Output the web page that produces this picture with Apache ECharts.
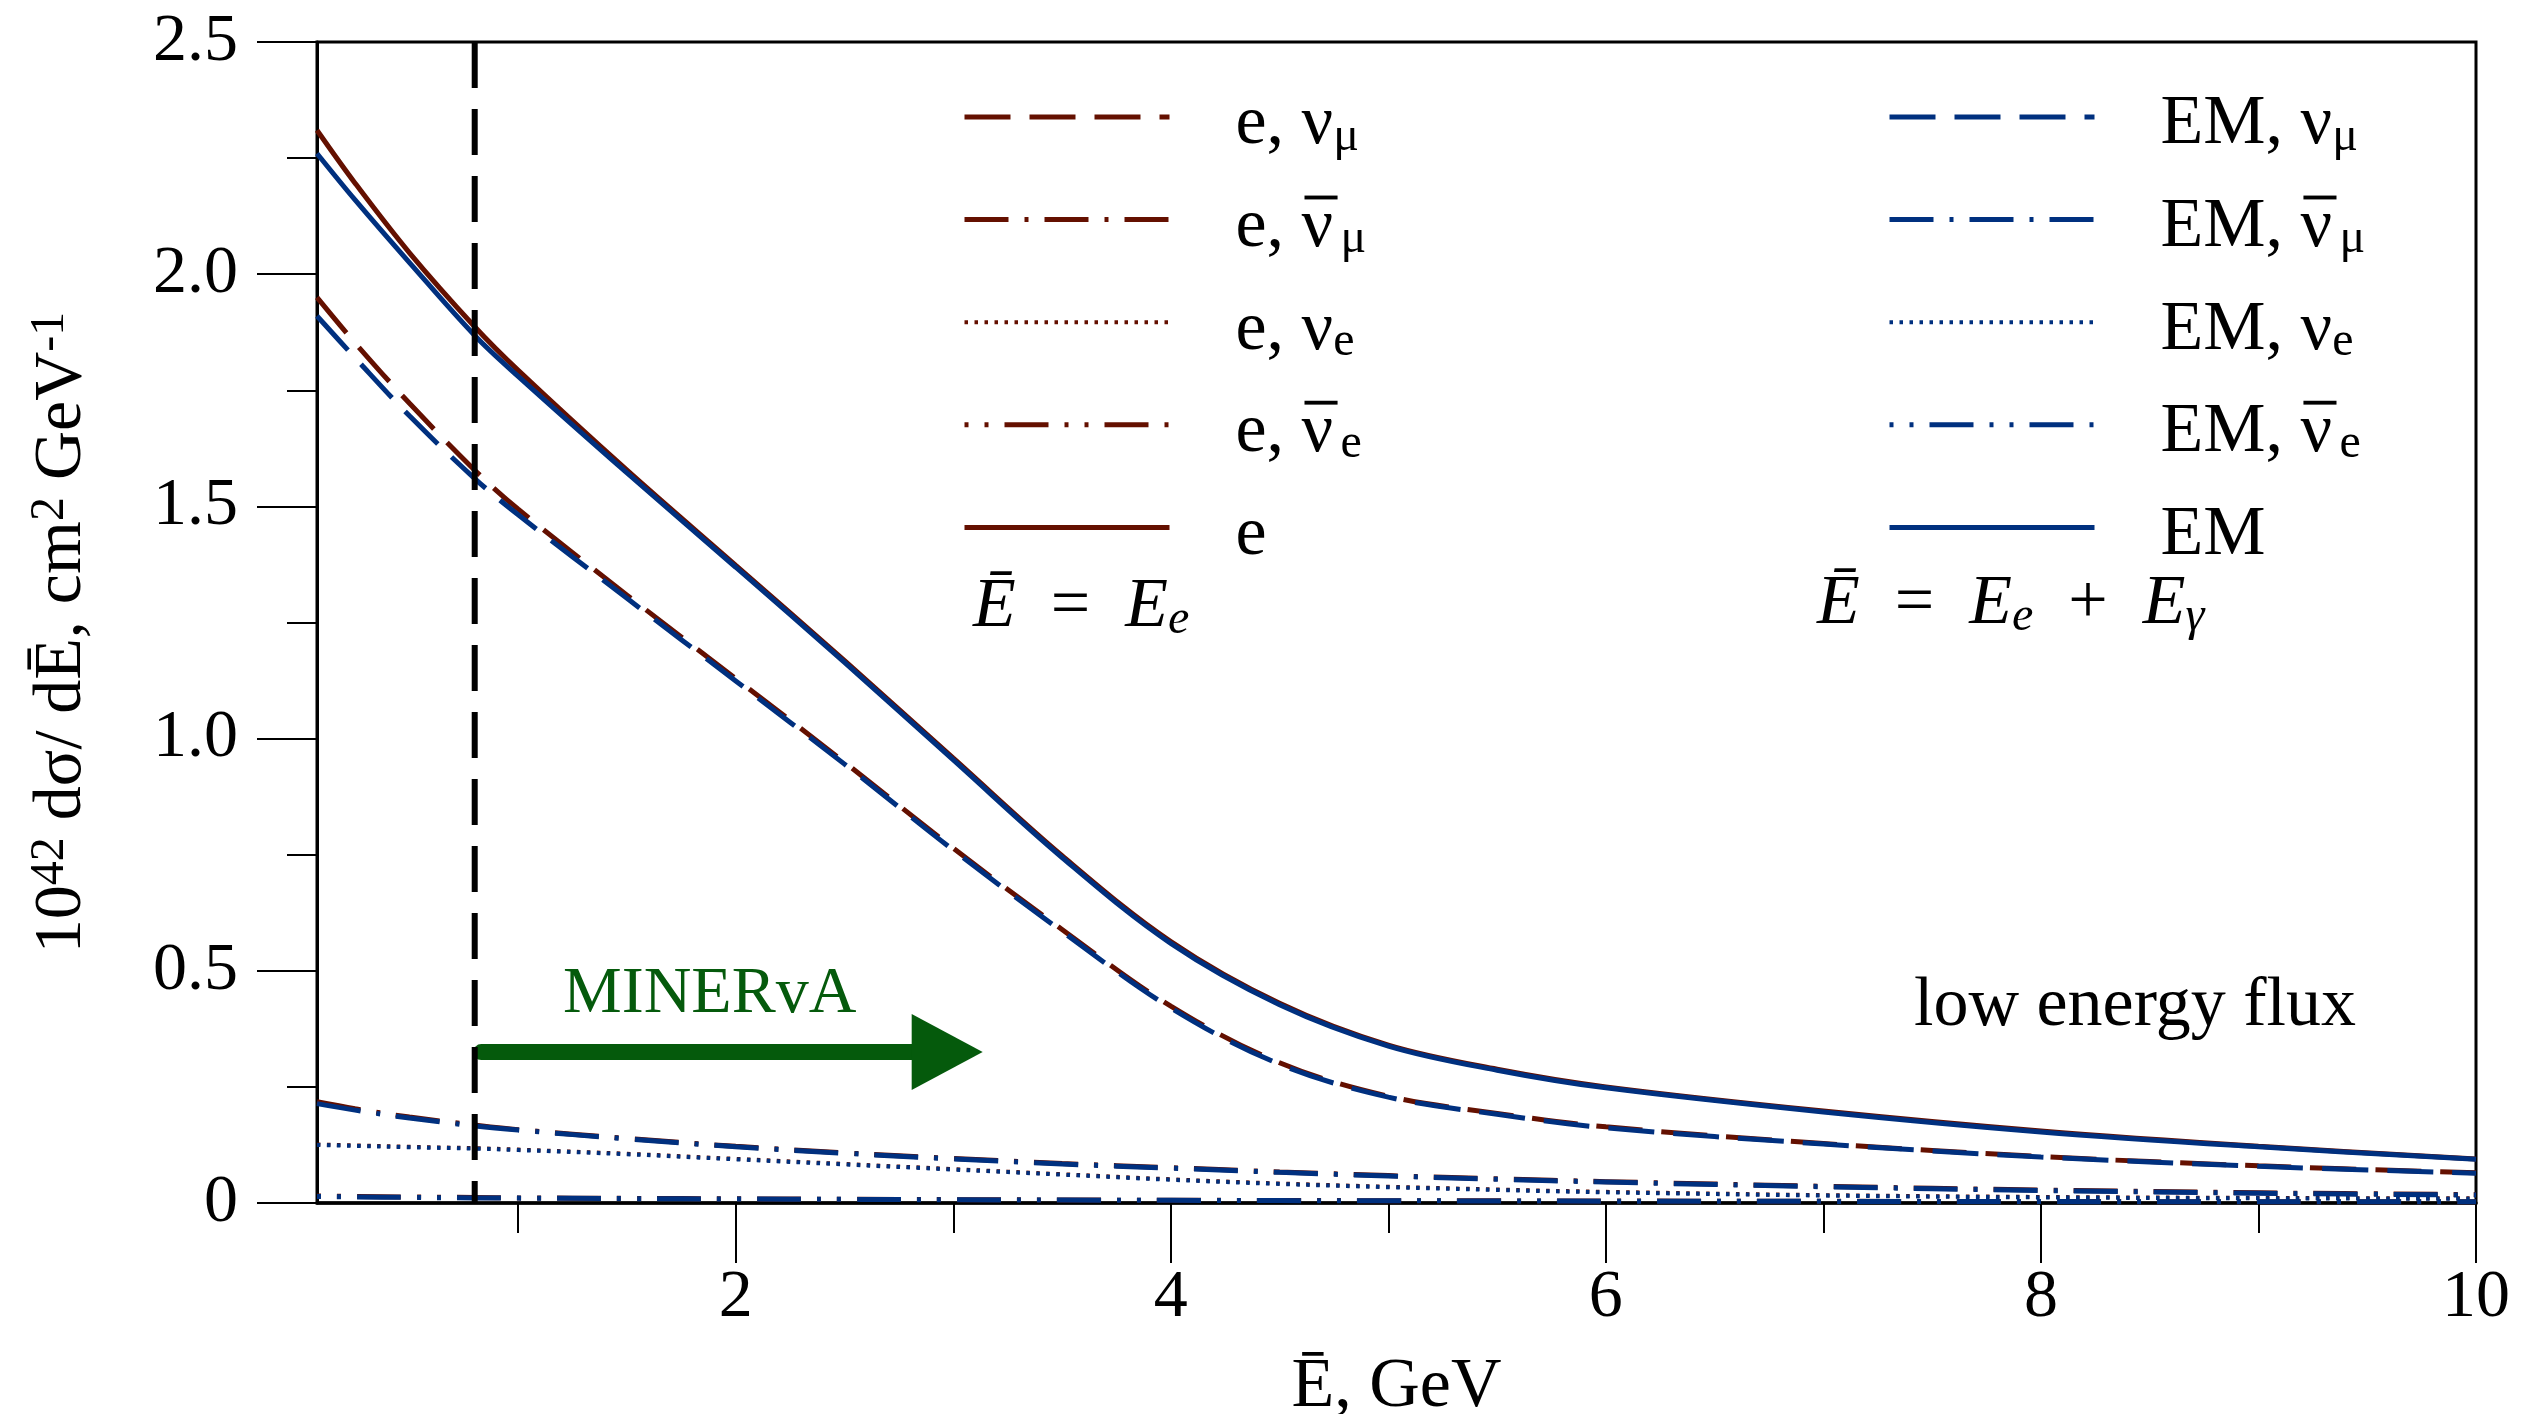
<!DOCTYPE html>
<html>
<head>
<meta charset="utf-8">
<script src="https://cdn.jsdelivr.net/npm/echarts@6/dist/echarts.min.js"></script>
<style>
html,body{margin:0;padding:0;background:#fff;}
#chart{width:2539px;height:1414px;}
</style>
</head>
<body>
<div id="chart"></div>
<script>
// ---------- data ----------
const xs = [0.075, 0.25, 0.5, 0.8, 1, 1.5, 2, 2.5, 3, 3.5, 4, 4.5, 5, 5.5, 6, 7, 8, 9, 10];

const eSolid   = [2.31, 2.196, 2.046, 1.887, 1.793, 1.578, 1.373, 1.168, 0.958, 0.748, 0.563, 0.43, 0.34, 0.288, 0.25, 0.198, 0.155, 0.122, 0.095];
const emSolid  = [2.26, 2.16, 2.025, 1.868, 1.78, 1.572, 1.369, 1.164, 0.954, 0.744, 0.559, 0.427, 0.338, 0.286, 0.248, 0.196, 0.153, 0.121, 0.094];

const eNuMu    = [1.95, 1.852, 1.722, 1.578, 1.494, 1.309, 1.129, 0.949, 0.764, 0.589, 0.424, 0.302, 0.230, 0.193, 0.164, 0.128, 0.100, 0.080, 0.065];
const emNuMu   = [1.91, 1.82, 1.695, 1.56, 1.482, 1.302, 1.124, 0.945, 0.76, 0.585, 0.42, 0.299, 0.228, 0.191, 0.162, 0.127, 0.099, 0.079, 0.064];

const eNuMuBar  = [0.218, 0.203, 0.185, 0.168, 0.158, 0.139, 0.122, 0.108, 0.096, 0.085, 0.076, 0.067, 0.059, 0.052, 0.046, 0.036, 0.028, 0.022, 0.018];
const emNuMuBar = [0.214, 0.200, 0.183, 0.166, 0.157, 0.138, 0.121, 0.107, 0.095, 0.084, 0.075, 0.066, 0.058, 0.051, 0.045, 0.035, 0.027, 0.021, 0.017];

const eNuE     = [0.126, 0.124, 0.121, 0.118, 0.115, 0.106, 0.095, 0.084, 0.073, 0.062, 0.051, 0.042, 0.035, 0.029, 0.024, 0.017, 0.013, 0.011, 0.010];
const emNuE    = [0.125, 0.123, 0.120, 0.117, 0.114, 0.105, 0.094, 0.083, 0.072, 0.061, 0.050, 0.041, 0.034, 0.028, 0.023, 0.016, 0.012, 0.010, 0.009];

const eNuEBar  = [0.015, 0.014, 0.013, 0.012, 0.011, 0.010, 0.009, 0.008, 0.0072, 0.0065, 0.0059, 0.0054, 0.005, 0.0046, 0.0042, 0.0036, 0.0031, 0.0028, 0.0026];
const emNuEBar = [0.014, 0.013, 0.012, 0.011, 0.0105, 0.0095, 0.0085, 0.0078, 0.007, 0.0063, 0.0057, 0.0052, 0.0048, 0.0044, 0.004, 0.0035, 0.003, 0.0027, 0.0025];

const xMin = 0.075, xMax = 10;
const xMajorTicks = [2, 4, 6, 8, 10];
const xMinorTicks = [1, 3, 5, 7, 9];
const yTickLabels = ['0', '0.5', '1.0', '1.5', '2.0', '2.5'];

const thresholdX = 0.8;            // MINERvA threshold (vertical dashed line)
const arrowY = 0.325;
const arrowShaft = [0.83, 2.86];
const arrowHeadX = 2.972;

const redNames  = ['e, νμ', 'e, anti-νμ', 'e, νe', 'e, anti-νe', 'e'];
const blueNames = ['EM, νμ', 'EM, anti-νμ', 'EM, νe', 'EM, anti-νe', 'EM'];
const legendText = {
  'e, νμ': 'e, ν{s|μ}', 'e, anti-νμ': 'e, {nb|ν}{s|μ}', 'e, νe': 'e, ν{s|e}', 'e, anti-νe': 'e, {nb|ν}{s|e}', 'e': 'e',
  'EM, νμ': 'EM, ν{s|μ}', 'EM, anti-νμ': 'EM, {nb|ν}{s|μ}', 'EM, νe': 'EM, ν{s|e}', 'EM, anti-νe': 'EM, {nb|ν}{s|e}', 'EM': 'EM'
};

// ---------- styles ----------
const RED = '#641000', BLUE = '#00307f', GREEN = '#055a0c';
const FONT = 'Liberation Serif';
const DASH = [46, 19], DASHDOT = [44, 16, 4, 16], DOT = [3.5, 6.5], DASHDOTDOT = [44, 16, 4, 16, 4, 16];
const styleOf = [
  { type: DASH, width: 5, off: 0 },
  { type: DASHDOT, width: 5, off: 0 },
  { type: DOT, width: 4, off: 0 },
  { type: DASHDOTDOT, width: 5, off: 60 },
  { type: 'solid', width: 5, off: 0 }
];

// overline bar drawn as token background (bar sits above the nu glyph)
const barCanvas = document.createElement('canvas');
barCanvas.width = 40; barCanvas.height = 72;
(function(){ const g = barCanvas.getContext('2d'); g.fillStyle = '#000'; g.fillRect(3, 3, 34, 4); })();

function pts(arr){ return xs.map((x, i) => [x, arr[i]]); }
function curve(name, arr, color, st){
  return {
    name, type: 'line', data: pts(arr), symbol: 'none', smooth: 0.35,
    lineStyle: { color, width: st.width, type: st.type, dashOffset: st.off, cap: 'butt' },
    itemStyle: { color }, silent: true
  };
}

const redData  = [eNuMu, eNuMuBar, eNuE, eNuEBar, eSolid];
const blueData = [emNuMu, emNuMuBar, emNuE, emNuEBar, emSolid];
const series = [];
redNames.forEach((n, i) => series.push(curve(n, redData[i], RED, styleOf[i])));
blueNames.forEach((n, i) => series.push(curve(n, blueData[i], BLUE, styleOf[i])));
series.push(
  {
    type: 'line', data: [[thresholdX, 2.5], [thresholdX, 0]], symbol: 'none', silent: true, z: 5,
    lineStyle: { color: '#000', width: 6, type: [46, 21], cap: 'butt' }
  },
  {
    type: 'line', data: [[arrowShaft[0], arrowY], [arrowShaft[1], arrowY]], symbol: 'none', silent: true, z: 4,
    lineStyle: { color: GREEN, width: 16, cap: 'round' }
  },
  {
    type: 'scatter', data: [[arrowHeadX, arrowY]], symbol: 'triangle', symbolSize: [76, 71], symbolRotate: -90,
    itemStyle: { color: GREEN, opacity: 1 }, silent: true, z: 4
  }
);

const legendRich = {
  s: { fontSize: 48, fontFamily: FONT, color: '#000', lineHeight: 35, verticalAlign: 'bottom' },
  nb: { fontSize: 70, fontFamily: FONT, color: '#000', lineHeight: 72, backgroundColor: { image: barCanvas } }
};
function makeLegend(names, left, color){
  return {
    data: names.map((n, i) => ({
      name: n,
      lineStyle: { width: styleOf[i].width, type: styleOf[i].type, dashOffset: styleOf[i].off, color, cap: 'butt', opacity: 1 }
    })),
    orient: 'vertical', left, top: 73, padding: 0,
    itemWidth: 205, itemHeight: 20, itemGap: 14.6, selectedMode: false,
    itemStyle: { opacity: 0 },
    formatter: n => legendText[n],
    textStyle: { fontFamily: FONT, fontSize: 70, color: '#000', lineHeight: 72, padding: [16, 0, 0, 61], rich: legendRich }
  };
}

const chart = echarts.init(document.getElementById('chart'), null, { renderer: 'canvas' });
chart.setOption({
  animation: false,
  backgroundColor: '#fff',
  grid: {
    left: 317, top: 42, right: 63, bottom: 211, containLabel: false, outerBoundsMode: 'none',
    show: true, borderColor: '#000', borderWidth: 3, backgroundColor: 'transparent'
  },
  legend: [makeLegend(redNames, 962, RED), makeLegend(blueNames, 1887, BLUE)],
  xAxis: [
    {
      type: 'value', min: xMin, max: xMax, position: 'bottom',
      axisLine: { show: true, onZero: false, lineStyle: { color: '#000', width: 3.5 } },
      axisTick: { show: true, customValues: xMajorTicks, length: 60, inside: false, lineStyle: { color: '#000', width: 2 } },
      axisLabel: { customValues: xMajorTicks, formatter: v => String(v), margin: 61, fontSize: 68, fontFamily: FONT, color: '#000' },
      splitLine: { show: false },
      name: 'Ē, GeV', nameLocation: 'middle', nameGap: 150,
      nameTextStyle: { fontSize: 70, fontFamily: FONT, color: '#000' }
    },
    {
      type: 'value', min: xMin, max: xMax, position: 'bottom',
      axisLine: { show: false },
      axisTick: { show: true, customValues: xMinorTicks, length: 30, inside: false, lineStyle: { color: '#000', width: 2 } },
      axisLabel: { show: false }, splitLine: { show: false }
    }
  ],
  yAxis: [
    {
      type: 'value', min: 0, max: 2.5, interval: 0.5, position: 'left',
      axisLine: { show: true, onZero: false, lineStyle: { color: '#000', width: 3 } },
      axisTick: { show: true, length: 60, inside: false, lineStyle: { color: '#000', width: 2 } },
      axisLabel: { formatter: v => yTickLabels[Math.round(v / 0.5)], margin: 79, fontSize: 68, fontFamily: FONT, color: '#000' },
      splitLine: { show: false },
      name: '10{sup|42} dσ/ dĒ, cm{sup|2} GeV{sup|-1}', nameLocation: 'middle', nameGap: 219, nameRotate: 90,
      nameTextStyle: {
        fontSize: 68, fontFamily: FONT, color: '#000', lineHeight: 72, padding: [0, 20, 0, 0],
        rich: { sup: { fontSize: 48, fontFamily: FONT, color: '#000', lineHeight: 30, verticalAlign: 'top' } }
      }
    },
    {
      type: 'value', min: 0, max: 2.5, interval: 0.25, position: 'left',
      axisLine: { show: false },
      axisTick: { show: true, length: 30, inside: false, lineStyle: { color: '#000', width: 2 } },
      axisLabel: { show: false }, splitLine: { show: false }
    }
  ],
  graphic: [
    {
      type: 'text', left: 973, top: 573, silent: true,
      style: {
        text: '{i|Ē}{n|\u2002=\u2002}{i|E}{is|e}',
        rich: {
          i: { fontFamily: FONT, fontStyle: 'italic', fontSize: 70, lineHeight: 72, fill: '#000' },
          n: { fontFamily: FONT, fontSize: 70, lineHeight: 72, fill: '#000' },
          is: { fontFamily: FONT, fontStyle: 'italic', fontSize: 48, lineHeight: 35, verticalAlign: 'bottom', fill: '#000' }
        }
      }
    },
    {
      type: 'text', left: 1817, top: 570, silent: true,
      style: {
        text: '{i|Ē}{n|\u2002=\u2002}{i|E}{is|e}{n|\u2002+\u2002}{i|E}{is|γ}',
        rich: {
          i: { fontFamily: FONT, fontStyle: 'italic', fontSize: 70, lineHeight: 72, fill: '#000' },
          n: { fontFamily: FONT, fontSize: 70, lineHeight: 72, fill: '#000' },
          is: { fontFamily: FONT, fontStyle: 'italic', fontSize: 48, lineHeight: 35, verticalAlign: 'bottom', fill: '#000' }
        }
      }
    },
    {
      type: 'text', left: 1914, top: 972, silent: true,
      style: { text: 'low energy flux', fontFamily: FONT, fontSize: 70, fill: '#000' }
    },
    {
      type: 'text', left: 563, top: 962, silent: true,
      style: { text: 'MINERvA', fontFamily: FONT, fontSize: 66, fill: GREEN }
    }
  ],
  series
});
</script>
</body>
</html>
